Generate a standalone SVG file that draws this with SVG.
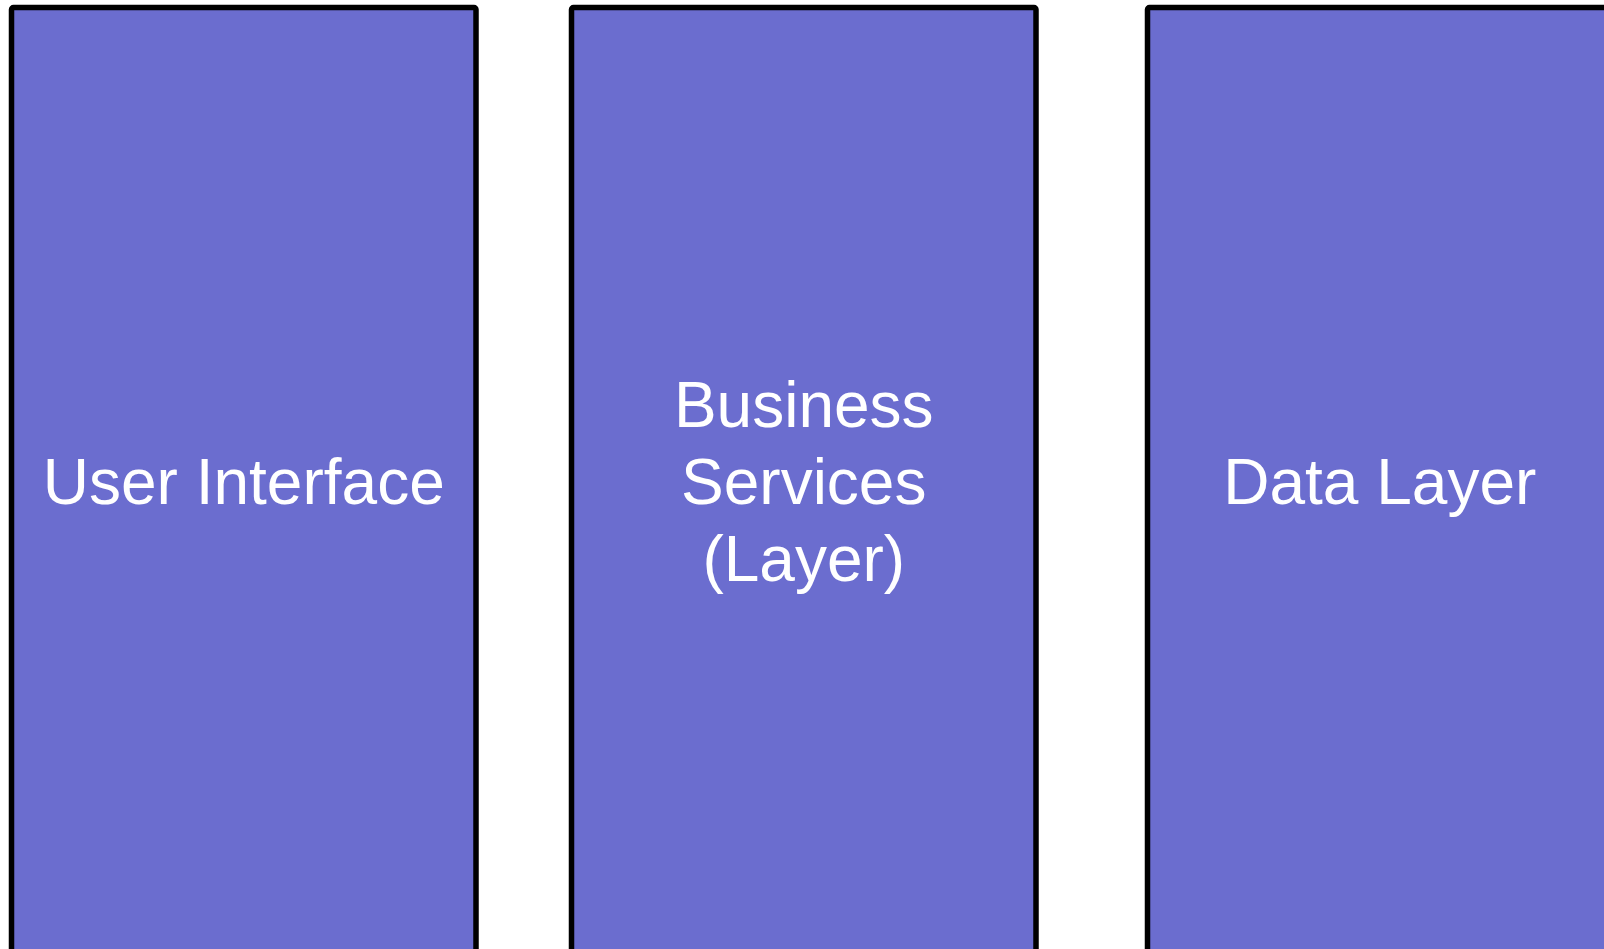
<svg xmlns="http://www.w3.org/2000/svg" width="1604" height="949" viewBox="0 0 1604 949">
  <style>
    .box { fill: #6b6dcf; stroke: #000000; stroke-width: 5.5; }
    .label { fill: #ffffff; font-family: "Liberation Sans", Arial, sans-serif; font-size: 64px; text-anchor: middle; }
  </style>
  <rect x="0" y="0" width="1604" height="949" fill="#ffffff"/>
  <g id="connectors"></g>
  <g id="user-interface">
    <rect class="box" x="11.5" y="7.5" width="464.5" height="1000" rx="2"/>
    <text class="label" x="243.75" y="504">User Interface</text>
  </g>
  <g id="business-services">
    <rect class="box" x="571.5" y="7.5" width="464.5" height="1000" rx="2"/>
    <text class="label" x="803.75" y="427">Business</text>
    <text class="label" x="803.75" y="504">Services</text>
    <text class="label" x="803.75" y="581">(Layer)</text>
  </g>
  <g id="data-layer">
    <rect class="box" x="1147.5" y="7.5" width="464.5" height="1000" rx="2"/>
    <text class="label" x="1379.75" y="504">Data Layer</text>
  </g>
</svg>
